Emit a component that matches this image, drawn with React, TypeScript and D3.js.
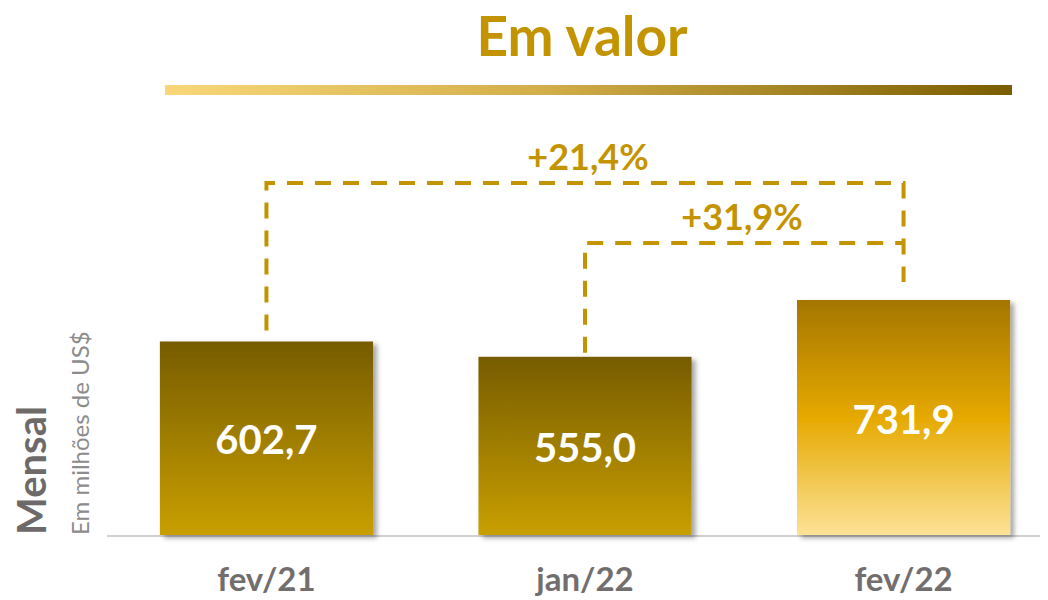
import React from "react";
import * as d3 from "d3";

const categories = ["fev/21", "jan/22", "fev/22"];
const values = [602.7, 555.0, 731.9];
const valueLabels = ["602,7", "555,0", "731,9"];
const changeLabels = ["+21,4%", "+31,9%"];
const title = "Em valor";
const axisTitle = "Mensal";
const axisSubtitle = "Em milhões de US$";

const W = 1048;
const H = 600;
const GOLD = "#C39400";

export default function App() {
  const x = d3
    .scaleBand<string>()
    .domain(categories)
    .range([107, 1063])
    .paddingInner(0.331)
    .paddingOuter(0.166);
  const y = d3.scaleLinear().domain([0, 731.9]).range([535, 300]);
  const bw = x.bandwidth();
  const cx = (c: string) => (x(c) as number) + bw / 2;

  // bracket geometry
  const b1Top = 183;
  const b2Top = 243;
  const b1 = `M${cx(categories[0])},${y(values[0]) - 11}V${b1Top}H${cx(categories[2])}V${y(values[2]) - 18}`;
  const b2 = `M${cx(categories[1])},${y(values[1]) - 4}V${b2Top}H${cx(categories[2])}`;

  return (
    <svg width={W} height={H} style={{ position: "absolute", left: 0, top: 0 }}>
      <defs>
        <linearGradient id="rule" x1="0" x2="1" y1="0" y2="0">
          <stop offset="0" stopColor="#F9D778" />
          <stop offset="0.45" stopColor="#D2AE4A" />
          <stop offset="1" stopColor="#7A5D00" />
        </linearGradient>
        <linearGradient id="dark" x1="0" x2="0" y1="0" y2="1">
          <stop offset="0" stopColor="#765C00" />
          <stop offset="1" stopColor="#C99F00" />
        </linearGradient>
        <linearGradient id="light" x1="0" x2="0" y1="0" y2="1">
          <stop offset="0" stopColor="#A47600" />
          <stop offset="0.5" stopColor="#E6A900" />
          <stop offset="1" stopColor="#FCE296" />
        </linearGradient>
        <filter id="shadow" x="-10%" y="-10%" width="130%" height="130%">
          <feDropShadow dx="4" dy="3" stdDeviation="2.5" floodColor="#000" floodOpacity="0.35" />
        </filter>
      </defs>
      <rect width={W} height={H} fill="#fff" />

      <text x={582} y={56} textAnchor="middle" fontFamily="Lato" fontWeight={700} fontSize={55} fill={GOLD}>
        {title}
      </text>
      <rect x={165} y={85} width={847} height={10} fill="url(#rule)" />

      <line x1={107} x2={1040} y1={536} y2={536} stroke="#D0D0D0" strokeWidth={2} />

      {categories.map((c, i) => (
        <g key={c}>
          <rect
            x={x(c)}
            y={y(values[i])}
            width={bw}
            height={y(0) - y(values[i])}
            fill={i === 2 ? "url(#light)" : "url(#dark)"}
            filter="url(#shadow)"
          />
          <text
            x={cx(c)}
            y={(y(values[i]) + y(0)) / 2 + 16}
            textAnchor="middle"
            fontFamily="Lato"
            fontWeight={700}
            fontSize={40}
            fill="#fff"
          >
            {valueLabels[i]}
          </text>
          <text x={cx(c)} y={591} textAnchor="middle" fontFamily="Lato" fontWeight={700} fontSize={33} fill="#736E6E">
            {c}
          </text>
        </g>
      ))}

      <path d={b1} fill="none" stroke={GOLD} strokeWidth={4} strokeDasharray="16 12" />
      <path d={b2} fill="none" stroke={GOLD} strokeWidth={4} strokeDasharray="16 12" />
      <text x={588} y={170} textAnchor="middle" fontFamily="Lato" fontWeight={700} fontSize={36} fill={GOLD}>
        {changeLabels[0]}
      </text>
      <text x={742} y={230} textAnchor="middle" fontFamily="Lato" fontWeight={700} fontSize={36} fill={GOLD}>
        {changeLabels[1]}
      </text>

      <text transform="translate(46,535) rotate(-90)" fontFamily="Lato" fontWeight={700} fontSize={40} fill="#6E6A6A">
        {axisTitle}
      </text>
      <text transform="translate(89,535) rotate(-90)" fontFamily="Lato" fontWeight={400} fontSize={24} fill="#8C8C8C">
        {axisSubtitle}
      </text>
    </svg>
  );
}
